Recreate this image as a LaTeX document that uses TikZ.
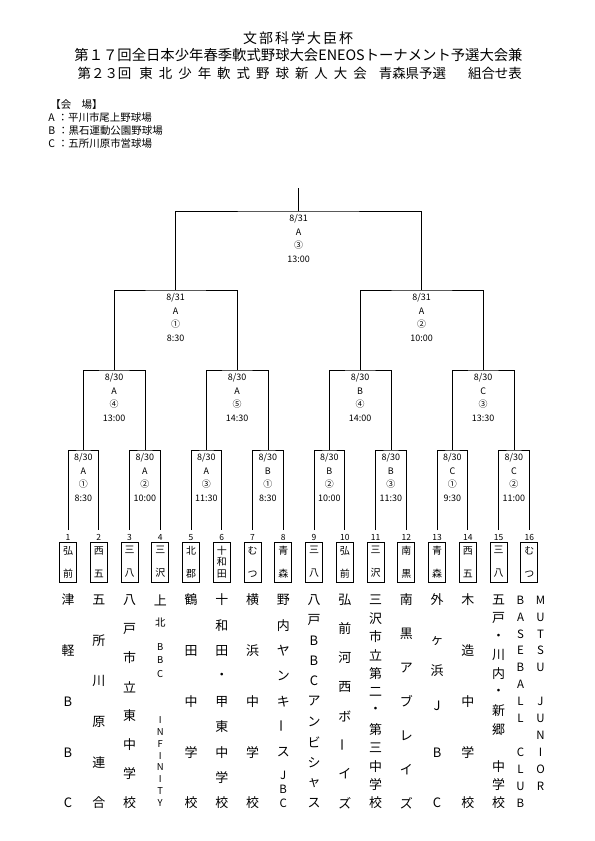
\documentclass[tikz,border=0pt]{standalone}
\usepackage{graphicx}
\usepackage{fontspec}
\setmainfont{Noto Sans CJK JP}
\newcommand\fs[1]{\fontsize{#1}{#1}\selectfont}
\newcommand\choon{\rotatebox[origin=c]{90}{ー}}
% [font] name x y0 step list
\newcommand\tate[6][13]{\foreach \ch [count=\k] in {#6} \node[namechar,font=\fs{#1}] (#2-\k) at (#3,{#4+(\k-1)*(#5)}) {\ch};}

\begin{document}
\begin{tikzpicture}[x=1bp,y=-1bp,line width=0.6bp,
  lbl/.style={below=3.5bp,inner sep=0pt,align=center,font=\fontsize{9}{13.5}\selectfont},
  box/.style={draw,line width=0.8bp,minimum width=17bp,minimum height=40bp,inner sep=0pt,align=center,font=\fontsize{10}{11.5}\selectfont},
  num/.style={anchor=south,inner sep=0.5bp,font=\fs{8.5}},
  namechar/.style={inner sep=0pt},
  venue/.style={anchor=west,inner sep=0pt,font=\fs{10.5}}]
\path[use as bounding box] (0,0) rectangle (595,841);

\node (title1) at (298,38) {\fs{14}\makebox[110bp][s]{文\hfill 部\hfill 科\hfill 学\hfill 大\hfill 臣\hfill 杯}};
\node (title2) at (298.5,55) {\fs{14.4}第１７回全日本少年春季軟式野球大会ENEOSトーナメント予選大会兼};
\node (title3) at (299.75,73) {\fs{13.5}第２３回\hspace{8bp}東\hspace{6bp}北\hspace{6bp}少\hspace{6bp}年\hspace{6bp}軟\hspace{6bp}式\hspace{6bp}野\hspace{6bp}球\hspace{6bp}新\hspace{6bp}人\hspace{6bp}大\hspace{6bp}会\hspace{12bp}青森県予選\hspace{22bp}組合せ表};

\node[venue] (v0) at (50,105) {【会　場】};
\node[venue] (vA) at (48,117.5) {A\hspace{3bp}：平川市尾上野球場};
\node[venue] (vB) at (48,130.5) {B\hspace{3bp}：黒石運動公園野球場};
\node[venue] (vC) at (48,143.5) {C\hspace{3bp}：五所川原市営球場};

\foreach \bx [count=\i] in {弘\\[11.5bp]前,西\\[11.5bp]五,三\\[11.5bp]八,三\\[11.5bp]沢,北\\[11.5bp]郡,十\\和\\田,む\\[11.5bp]つ,青\\[11.5bp]森,
  三\\[11.5bp]八,弘\\[11.5bp]前,三\\[11.5bp]沢,南\\[11.5bp]黒,青\\[11.5bp]森,西\\[11.5bp]五,三\\[11.5bp]八,む\\[11.5bp]つ} {
  \pgfmathsetmacro\x{68+(\i-1)*30.75}
  \coordinate (r0-\i) at (\x,530);
  \node[box] (b\i) at (\x,562) {\bx};
  \node[num] (k\i) at (b\i.north) {\i};
}

\foreach \l/\yy in {1/450,2/370,3/290,4/211} {
  \pgfmathtruncatemacro\n{16/2^\l}
  \pgfmathtruncatemacro\p{\l-1}
  \foreach \m in {1,...,\n} {
    \pgfmathsetmacro\xc{68+((\m-1)*2^\l+(2^\l-1)/2)*30.75}
    \pgfmathtruncatemacro\lft{2*\m-1}
    \pgfmathtruncatemacro\rgt{2*\m}
    \coordinate (r\l-\m) at (\xc,\yy);
    \draw (r\p-\lft) |- (r\l-\m) -| (r\p-\rgt);
  }
}
\coordinate (top) at (298.625,188);
\draw (r4-1) -- (top);

\foreach \vn/\cn/\tm [count=\m] in {A/①/8:30,A/②/10:00,A/③/11:30,B/①/8:30,B/②/10:00,B/③/11:30,C/①/9:30,C/②/11:00}
  \node[lbl] (g1-\m) at (r1-\m) {8/30\\\vn\\\cn\\\tm};
\foreach \vn/\cn/\tm [count=\m] in {A/④/13:00,A/⑤/14:30,B/④/14:00,C/③/13:30}
  \node[lbl] (g2-\m) at (r2-\m) {8/30\\\vn\\\cn\\\tm};
\foreach \vn/\cn/\tm [count=\m] in {A/①/8:30,A/②/10:00}
  \node[lbl] (g3-\m) at (r3-\m) {8/31\\\vn\\\cn\\\tm};
\node[lbl] (g4-1) at (r4-1) {8/31\\A\\③\\13:00};

\tate{n1}{68}{600}{203/4}{津,軽,B,B,C}
\tate{n2}{98.75}{600}{203/5}{五,所,川,原,連,合}
\tate{n3}{129.5}{600}{203/7}{八,戸,市,立,東,中,学,校}
\node[namechar,font=\fs{13}] (n4-1) at (160.25,600) {上};
\node[namechar,font=\fs{10.5}] (n4-2) at (160.25,623) {北};
\tate[9.5]{n4b}{160.25}{647}{13.5}{B,B,C}
\tate[9.5]{n4c}{160.25}{720}{11.86}{I,N,F,I,N,I,T,Y}
\tate{n5}{191}{600}{203/4}{鶴,田,中,学,校}
\tate{n6}{221.75}{600}{203/8}{十,和,田,・,甲,東,中,学,校}
\tate{n7}{252.5}{600}{203/4}{横,浜,中,学,校}
\tate{n8}{283.25}{600}{25.3}{野,内,ヤ,ン,キ,\choon,ス}
\tate[11.5]{n8b}{283.25}{775}{14}{J,B,C}
\tate{n9}{314}{600}{203/10}{八,戸,B,B,C,ア,ン,ビ,シ,ャ,ス}
\tate{n10}{344.75}{600}{203/7}{弘,前,河,西,ボ,\choon,イ,ズ}
\tate{n11}{375.5}{600}{203/11}{三,沢,市,立,第,二,・,第,三,中,学,校}
\tate{n12}{406.25}{600}{203/6}{南,黒,ア,ブ,レ,イ,ズ}
\foreach \ch/\yy [count=\k] in {外/600,ヶ/641,浜/671,J/706,B/753,C/803}
  \node[namechar,font=\fs{13}] (n13-\k) at (437,\yy) {\ch};
\tate{n14}{467.75}{600}{203/4}{木,造,中,学,校}
\tate{n15}{498.5}{600}{203/11}{五,戸,・,川,内,・,新,郷,{},中,学,校}
\tate[11.5]{n16a}{520.5}{600}{203/12}{B,A,S,E,B,A,L,L,{},C,L,U,B}
\tate[11.5]{n16b}{540.5}{600}{203/12}{M,U,T,S,U,{},J,U,N,I,O,R}
\end{tikzpicture}
\end{document}
